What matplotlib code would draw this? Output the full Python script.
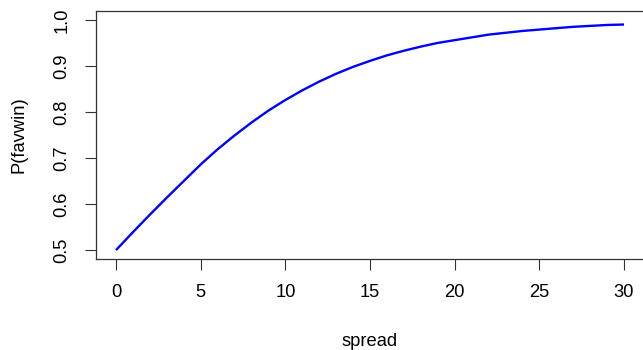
import matplotlib
matplotlib.use("Agg")
import matplotlib.pyplot as plt

# Values
spread = list(range(0, 31))
p_favwin = [0.500, 0.539, 0.577, 0.614, 0.650, 0.686, 0.719, 0.749, 0.777, 0.803,
            0.826, 0.847, 0.866, 0.883, 0.898, 0.911, 0.923, 0.933, 0.942, 0.950,
            0.956, 0.962, 0.968, 0.972, 0.976, 0.979, 0.982, 0.985, 0.987, 0.989,
            0.990]
x_ticks = [0, 5, 10, 15, 20, 25, 30]
y_ticks = [0.5, 0.6, 0.7, 0.8, 0.9, 1.0]

plt.rcParams['font.family'] = ['Liberation Sans', 'DejaVu Sans']
fs = 13.2

fig = plt.figure(figsize=(6.43, 3.5), dpi=100)
ax = fig.add_axes([95.7 / 643, 1 - 259.3 / 350, (644.3 - 95.7) / 643, (259.3 - 10.7) / 350])
ax.plot(spread, p_favwin, color='#0000ff', lw=1.7, solid_capstyle='butt')
ax.set_xlim(-1.2, 31.2)
ax.set_ylim(0.48, 1.02)
ax.set_xticks(x_ticks)
ax.set_yticks(y_ticks)
ax.set_xticklabels([str(v) for v in x_ticks], fontsize=fs)
ax.set_yticklabels([f"{v:.1f}" for v in y_ticks], fontsize=fs, rotation=90, va='center')
ax.tick_params(direction='out', length=8.0, width=0.8, pad=10, color='#333333')
for sp in ax.spines.values():
    sp.set_linewidth(0.9)
    sp.set_color('#333333')
ax.set_xlabel('spread', fontsize=fs, labelpad=23)
ax.set_ylabel('P(favwin)', fontsize=fs, labelpad=19)
fig.savefig('out.png', dpi=100)
